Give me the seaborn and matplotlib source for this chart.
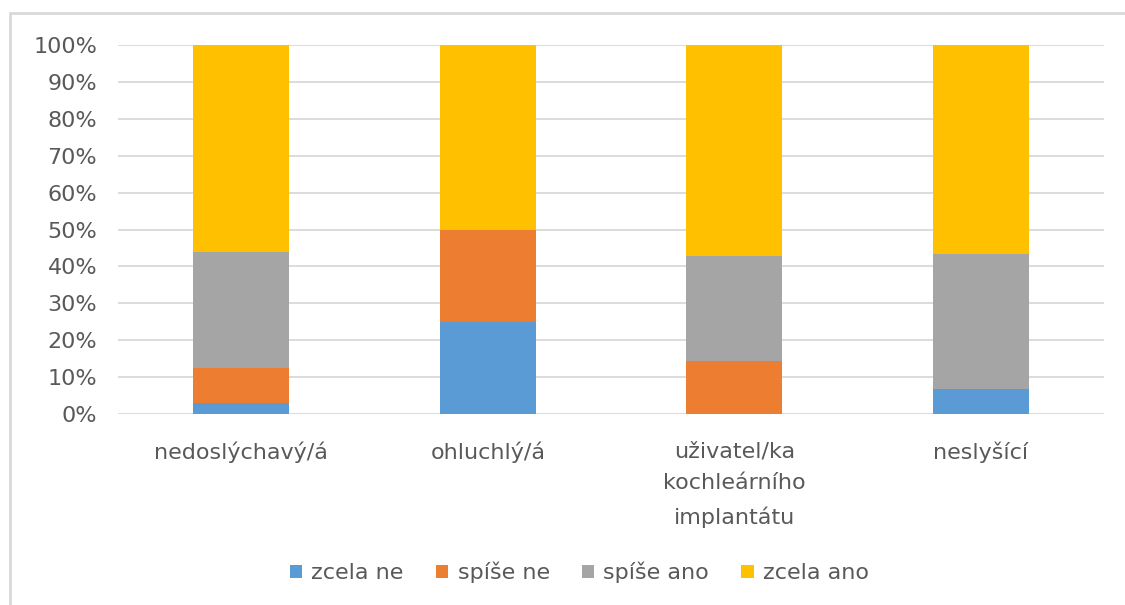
import pandas as pd
import matplotlib
matplotlib.use("Agg")
import matplotlib.pyplot as plt
from matplotlib.patches import Rectangle
import seaborn as sns

# data (share of answers, %)
skupiny = ["nedoslýchavý/á", "ohluchlý/á", "uživatel/ka\nkochleárního\nimplantátu", "neslyšící"]
odpovedi = ["zcela ne", "spíše ne", "spíše ano", "zcela ano"]
zcela_ne = [3.1, 25.0, 0.0, 6.7]
spise_ne = [9.4, 25.0, 14.3, 0.0]
spise_ano = [31.3, 0.0, 28.6, 36.6]
zcela_ano = [56.2, 50.0, 57.1, 56.7]
barvy = ["#5B9BD5", "#ED7D31", "#A5A5A5", "#FFC000"]

sns.set_theme(style="white")
plt.rcParams["font.family"] = ["DejaVu Sans"]

data = pd.DataFrame({"skupina": skupiny, "zcela ne": zcela_ne, "spíše ne": spise_ne,
                     "spíše ano": spise_ano, "zcela ano": zcela_ano})

fig = plt.figure(figsize=(11.25, 6.05), dpi=100)
ax = fig.add_axes([118 / 1125, 1 - 414 / 605, 986 / 1125, 369 / 605])

spodek = [0.0] * len(skupiny)
for odp, barva in zip(odpovedi, barvy):
    sns.barplot(data=data, x="skupina", y=odp, color=barva, width=0.39, saturation=1,
                bottom=spodek, ax=ax, label=odp, linewidth=0, zorder=3)
    spodek = [a + b for a, b in zip(spodek, data[odp])]

ax.set_ylim(0, 100)
ax.set_xlim(-0.5, 3.5)
ax.set_yticks(range(0, 101, 10))
ax.set_yticklabels([f"{v}%" for v in range(0, 101, 10)])
ax.yaxis.grid(True, color="#d9d9d9", linewidth=1.3, zorder=0)
ax.set_axisbelow(True)
ax.set_xlabel("")
ax.set_ylabel("")
for s in ax.spines.values():
    s.set_visible(False)
ax.tick_params(axis="y", length=0, pad=15, labelsize=16, labelcolor="#595959")
ax.tick_params(axis="x", length=0, pad=19.5, labelsize=16, labelcolor="#595959")
for t in ax.get_xticklabels():
    t.set_linespacing(1.75)
    t.set_verticalalignment("top")

leg = ax.legend(loc="center", bbox_to_anchor=(0.468, -0.43), ncol=4, frameon=False,
                fontsize=16, handlelength=0.55, handleheight=0.55, handletextpad=0.42,
                columnspacing=1.45, labelcolor="#595959")

# outline of the chart area (only left and top edge are visible in the crop)
fig.patches.append(Rectangle((10 / 1125, -0.1), 1.2, 1 - 13 / 605 + 0.1,
                             transform=fig.transFigure, fill=False,
                             edgecolor="#d9d9d9", linewidth=2))

fig.savefig("out.png", dpi=100)
